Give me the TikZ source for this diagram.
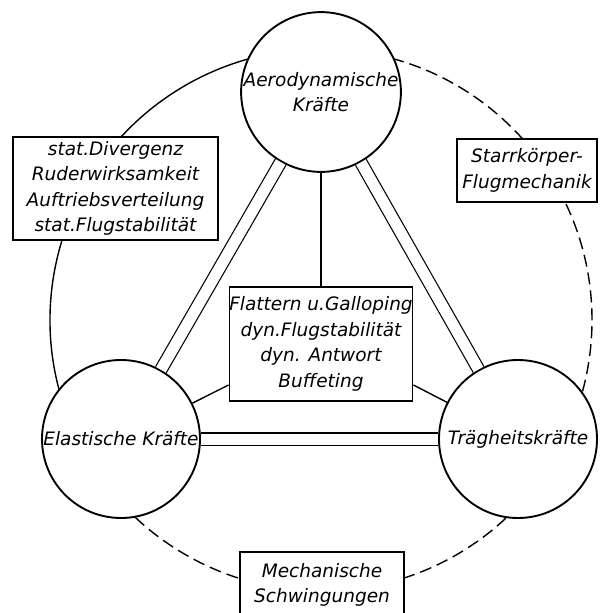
\documentclass[tikz,border=0pt]{standalone}
\usepackage{fontspec}
\setmainfont{DejaVu Sans}[ItalicFont={DejaVu Sans Oblique}]
\usepackage{tikz}
\usetikzlibrary{backgrounds}

\tikzset{
  kreis/.style={circle, draw, line width=1.9pt, minimum size=158pt, inner sep=0pt, fill=white, align=center},
  kasten/.style={rectangle, draw, line width=1.4pt, inner sep=0pt, fill=white, align=center},
  doppel/.style={double, double distance=11pt, line width=1.2pt},
  duenn/.style={line width=1.4pt},
  strich/.style={line width=1.4pt, dash pattern=on 12pt off 6pt}
}

\begin{document}
\begin{tikzpicture}[x=1pt, y=-1pt, font=\itshape\fontsize{18.5}{25.5}\selectfont]
      \clip (0,0) rectangle (600,613);
      \node[name=aero, kreis] at (321,92) {Aerodynamische\\Kräfte};
      \node[name=elast, kreis] at (121,439) {Elastische Kräfte};
      \node[name=traeg, kreis] at (518,439) {Trägheitskräfte};
      \node[name=stat, kasten, minimum width=205pt, minimum height=103pt] at (115.5,188.5)
        {stat.Divergenz\\Ruderwirksamkeit\\Auftriebsverteilung\\stat.Flugstabilität};
      \node[name=starr, kasten, minimum width=140pt, minimum height=63pt] at (527,170.5)
        {Starrkörper-\\Flugmechanik};
      \node[name=mid, kasten, minimum width=181pt, minimum height=114pt] at (321,344)
        {Flattern u.Galloping\\dyn.Flugstabilität\\dyn. Antwort\\Buffeting};
      \node[name=mech, kasten, minimum width=164pt, minimum height=66pt] at (322,585)
        {Mechanische\\Schwingungen};
      \coordinate (mL) at ([yshift=-41pt]mid.west);
      \coordinate (mR) at ([yshift=-41pt]mid.east);
      \coordinate (O) at (321,320);
      % Verbindungen
      \draw[doppel] (aero) -- (elast);
      \draw[doppel] (aero) -- (traeg);
      \draw[doppel] (elast) -- (traeg);
      \draw[duenn] (aero) -- (mid);
      \draw[duenn] (elast) -- (mL);
      \draw[duenn] (traeg) -- (mR);
      % grosser Kreis
      \begin{scope}[on background layer]
        \draw[duenn] (O) ++(149.2:271) arc[start angle=149.2, end angle=270, radius=271];
        \draw[strich] (O) ++(-90:271) arc[start angle=-90, end angle=149.2, radius=271];
      \end{scope}
    \end{tikzpicture}
\end{document}
